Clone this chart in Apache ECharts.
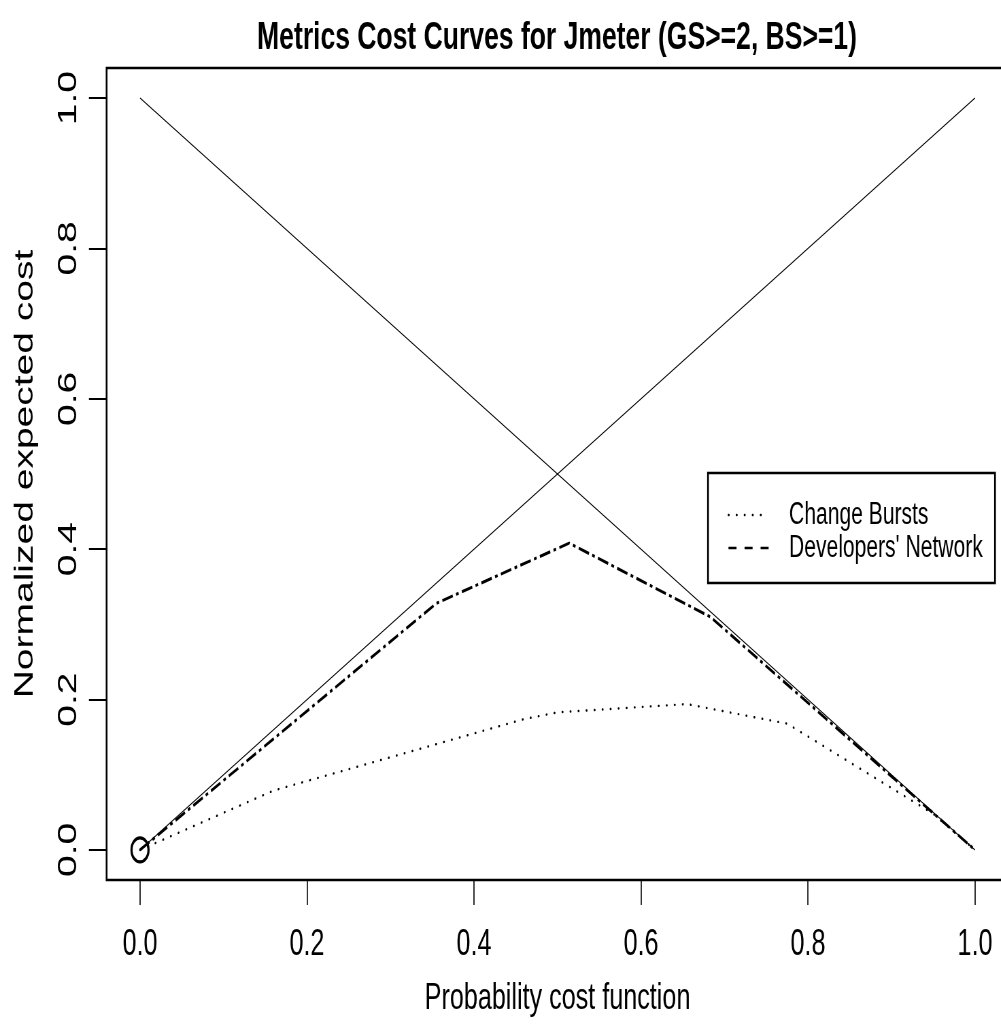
<!DOCTYPE html>
<html>
<head>
<meta charset="utf-8">
<script src="https://cdn.jsdelivr.net/npm/echarts@6/dist/echarts.min.js"></script>
<style>
html,body{margin:0;padding:0;overflow:hidden;background:#fff;width:1001px;height:1025px;}
#main{width:1500px;height:1025px;transform:scaleX(0.68);transform-origin:0 0;}
</style>
</head>
<body>
<div id="main"></div>
<script>
// ---- data ----
const titleText = "Metrics Cost Curves for Jmeter (GS>=2, BS>=1)";
const xAxisName = "Probability cost function";
const yAxisName = "Normalized expected cost";
const tickValues = [0, 0.2, 0.4, 0.6, 0.8, 1.0];
const diagDownX = [0, 1];
const diagDownY = [1, 0];
const diagUpX = [0, 1];
const diagUpY = [0, 1];
const changeBurstsX = [0, 0.16, 0.46, 0.50, 0.655, 0.775, 0.95, 1];
const changeBurstsY = [0, 0.079, 0.174, 0.183, 0.194, 0.168, 0.048, 0];
const devNetX = [0, 0.355, 0.514, 0.683, 1];
const devNetY = [0, 0.328, 0.408, 0.310, 0];
const markerX = [0];
const markerY = [0];
const seriesNames = ["Change Bursts", "Developers' Network"];

const S = 0.68; // horizontal squeeze of the picture
const W = 1500; // unsqueezed canvas width
const FONT = "'Liberation Sans', Arial, sans-serif";
const zip = (xs, ys) => xs.map((x, i) => [x, ys[i]]);

const chart = echarts.init(document.getElementById('main'), null, {renderer: 'canvas'});
chart.setOption({
  animation: false,
  backgroundColor: '#fff',
  color: ['#000', '#000', '#000', '#000', '#000'],
  title: {
    text: titleText,
    left: 557 / S,
    top: 19,
    padding: 0,
    textAlign: 'center',
    textStyle: {fontFamily: FONT, fontWeight: 'bold', fontSize: 39, color: '#000'}
  },
  grid: {
    show: true,
    left: 106.6 / S,
    right: W - 1008.4 / S,
    top: 68,
    bottom: 1025 - 880,
    borderColor: '#000',
    borderWidth: 2.6,
    backgroundColor: 'transparent'
  },
  xAxis: {
    type: 'value',
    min: -0.04, max: 1.04,
    name: xAxisName,
    nameLocation: 'middle',
    nameGap: 100,
    nameTextStyle: {fontFamily: FONT, fontSize: 37, color: '#000'},
    axisLine: {show: false, onZero: false},
    splitLine: {show: false},
    axisTick: {show: true, inside: false, customValues: tickValues, length: 25, lineStyle: {color: '#000', width: 1.6}},
    axisLabel: {
      customValues: tickValues, margin: 46, inside: false,
      formatter: v => v.toFixed(1),
      fontFamily: FONT, fontSize: 37, color: '#000'
    }
  },
  yAxis: {
    type: 'value',
    min: -0.04, max: 1.04,
    name: yAxisName,
    nameLocation: 'middle',
    nameGap: 100,
    nameTextStyle: {fontFamily: FONT, fontSize: 39, color: '#000'},
    axisLine: {show: false, onZero: false},
    splitLine: {show: false},
    axisTick: {show: true, inside: false, customValues: tickValues, length: 26, lineStyle: {color: '#000', width: 2}},
    axisLabel: {
      customValues: tickValues, margin: 36, rotate: 90, inside: false,
      formatter: v => v.toFixed(1),
      fontFamily: FONT, fontSize: 39, color: '#000'
    }
  },
  legend: {
    orient: 'vertical',
    left: 1070,
    top: 498.5,
    padding: 0,
    itemGap: 0,
    itemWidth: 59,
    itemHeight: 14,
    itemStyle: {opacity: 0},
    textStyle: {fontFamily: FONT, fontSize: 31, color: '#000', lineHeight: 33, padding: [0, 0, 0, 25]},
    data: [
      {name: seriesNames[0], itemStyle: {opacity: 0}, lineStyle: {type: [0.5, 11.3], width: 2.4, cap: 'round', color: '#000'}},
      {name: seriesNames[1], itemStyle: {opacity: 0}, lineStyle: {type: [11.8, 11.8], width: 2.6, color: '#000'}}
    ]
  },
  graphic: [{
    type: 'rect',
    shape: {x: 708 / S, y: 473, width: (995 - 708) / S, height: 110},
    style: {fill: 'none', stroke: '#000', lineWidth: 2.6},
    z: 100, silent: true
  }],
  series: [
    {type: 'line', data: zip(diagDownX, diagDownY), symbol: 'none', silent: true,
     lineStyle: {color: '#000', width: 1.1}},
    {type: 'line', data: zip(diagUpX, diagUpY), symbol: 'none', silent: true,
     lineStyle: {color: '#000', width: 1.1}},
    {type: 'line', name: seriesNames[0], data: zip(changeBurstsX, changeBurstsY), symbol: 'none',
     itemStyle: {color: '#000'},
     lineStyle: {color: '#000', width: 2.4, type: [0.5, 11.3], cap: 'round'}},
    {type: 'line', name: seriesNames[1], data: zip(devNetX, devNetY), symbol: 'none',
     itemStyle: {color: '#000'},
     lineStyle: {color: '#000', width: 3, type: [16, 5, 4, 5]}},
    {type: 'scatter', data: zip(markerX, markerY), symbol: 'circle', symbolSize: [25, 24], silent: true,
     itemStyle: {color: 'rgba(0,0,0,0)', borderColor: '#000', borderWidth: 3.2, opacity: 1}}
  ]
});
</script>
</body>
</html>
